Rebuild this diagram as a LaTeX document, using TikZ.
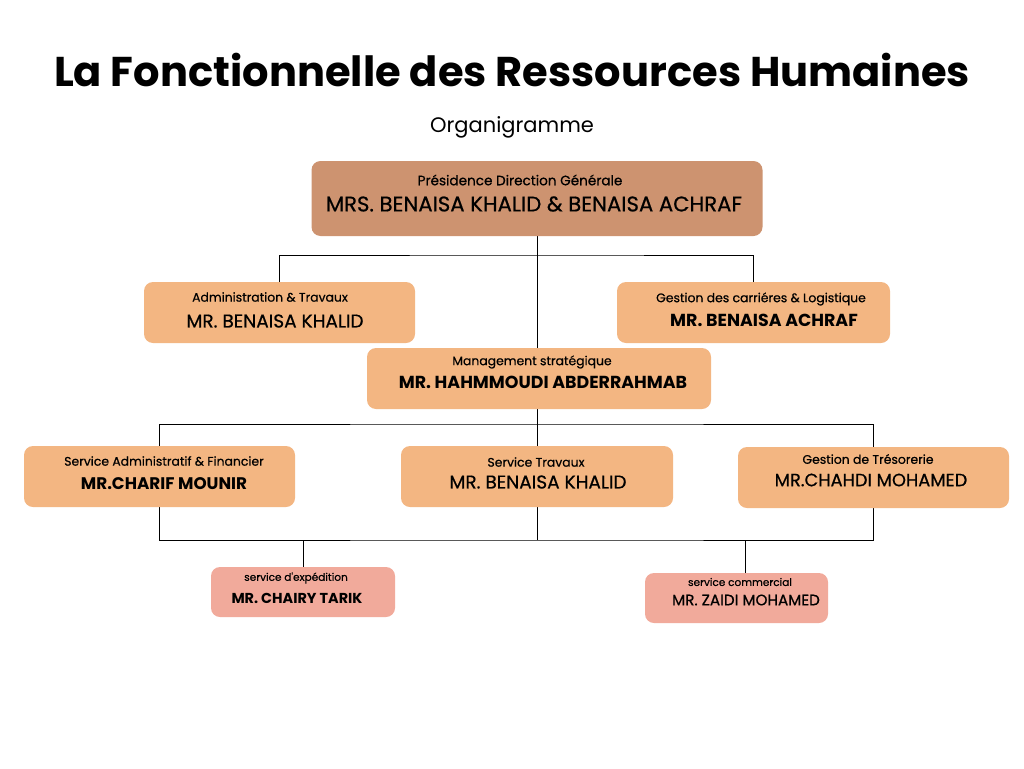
\documentclass[tikz,border=0pt]{standalone}
\usepackage{fontspec}
\setmainfont{Poppins}
\newfontfamily\medfont[FakeBold=0.6]{Poppins}
\usetikzlibrary{backgrounds}
\definecolor{topc}{HTML}{CD9370}
\definecolor{peach}{HTML}{F3B682}
\definecolor{salmon}{HTML}{F1AA9B}
\tikzset{
  box/.style={rounded corners=9pt, inner sep=0pt, draw=none},
  lab/.style={inner sep=0pt, font=\medfont\fontsize{12.4}{15}\selectfont},
  nm/.style={inner sep=0pt, font=\medfont\fontsize{18.5}{22}\selectfont},
  nmb/.style={inner sep=0pt, font=\bfseries\fontsize{17.4}{20}\selectfont},
  conn/.style={line width=0.9pt, draw=black}
}
\begin{document}
\begin{tikzpicture}[x=1pt,y=-1pt]
\useasboundingbox (0,0) rectangle (1024,768);
\node[inner sep=0pt, font=\bfseries\fontsize{41.6}{48}\selectfont] (title) at (512,70) {La Fonctionnelle des Ressources Humaines};
\node[inner sep=0pt, font=\fontsize{21}{25}\selectfont] (sub) at (512,127) {Organigramme};

% boxes
\node[box, fill=topc, minimum width=451pt, minimum height=75pt] (top) at (537,198.5) {};
\node[box, fill=peach, minimum width=271pt, minimum height=61pt] (admin) at (279.5,312.5) {};
\node[box, fill=peach, minimum width=273pt, minimum height=61pt] (gest) at (753.5,312.5) {};
\node[box, fill=peach, minimum width=344pt, minimum height=61pt] (mgmt) at (539,378.5) {};
\node[box, fill=peach, minimum width=271pt, minimum height=61pt] (sadm) at (159.5,476.5) {};
\node[box, fill=peach, minimum width=272pt, minimum height=61pt] (trav) at (537,476.5) {};
\node[box, fill=peach, minimum width=271pt, minimum height=61pt] (tres) at (873.5,477.5) {};
\node[box, fill=salmon, minimum width=184pt, minimum height=50pt] (exp) at (303,592) {};
\node[box, fill=salmon, minimum width=183pt, minimum height=50pt] (comm) at (736.5,598) {};

% connectors
\begin{scope}[on background layer]
\coordinate (j1) at (537,255);
\coordinate (j2) at (537,424);
\coordinate (j3) at (537,540);
\coordinate (c4) at (745,540);
\draw[conn] (top.south) -- (trav.north);
\draw[conn] (admin.north) |- (j1) -| (gest.north);
\draw[conn] (sadm.north) |- (j2) -| (tres.north);
\draw[conn] (sadm.south) |- (j3) -| (tres.south);
\draw[conn] (trav.south) -- (j3);
\draw[conn] (exp.north) -- (exp.north |- j3);
\draw[conn] (c4) -- (c4 |- comm.north);
\end{scope}

% texts
\node[lab, font=\medfont\fontsize{13.6}{16}\selectfont] (t1) at (520,180) {Présidence Direction Générale};
\node[nm, font=\medfont\fontsize{21.2}{24}\selectfont] (n1) at (534,204) {MRS. BENAISA KHALID \& BENAISA ACHRAF};
\node[lab] (t2) at (270,297) {Administration \& Travaux};
\node[nm] (n2) at (275,321) {MR. BENAISA KHALID};
\node[lab] (t3) at (761,299) {Gestion des carriéres \& Logistique};
\node[nmb] (n3) at (764,320) {MR. BENAISA ACHRAF};
\node[lab] (t4) at (532,362) {Management stratégique};
\node[nmb] (n4) at (543,382) {MR. HAHMMOUDI ABDERRAHMAB};
\node[lab] (t5) at (164,461) {Service Administratif \& Financier};
\node[nmb, font=\bfseries\fontsize{16.8}{20}\selectfont] (n5) at (164,484) {MR.CHARIF MOUNIR};
\node[lab] (t6) at (536,462) {Service Travaux};
\node[nm] (n6) at (538,482) {MR. BENAISA KHALID};
\node[lab] (t7) at (868,459) {Gestion de Trésorerie};
\node[nm, font=\medfont\fontsize{17.8}{21}\selectfont] (n7) at (871,480) {MR.CHAHDI MOHAMED};
\node[lab, font=\medfont\fontsize{10.5}{12}\selectfont] (t8) at (296,578) {service d'expédition};
\node[nmb, font=\bfseries\fontsize{14.4}{16}\selectfont] (n8) at (297,598) {MR. CHAIRY TARIK};
\node[lab, font=\medfont\fontsize{10.5}{12}\selectfont] (t9) at (740,582) {service commercial};
\node[nm, font=\medfont\fontsize{15.2}{17}\selectfont] (n9) at (746,600) {MR. ZAIDI MOHAMED};
\end{tikzpicture}
\end{document}
